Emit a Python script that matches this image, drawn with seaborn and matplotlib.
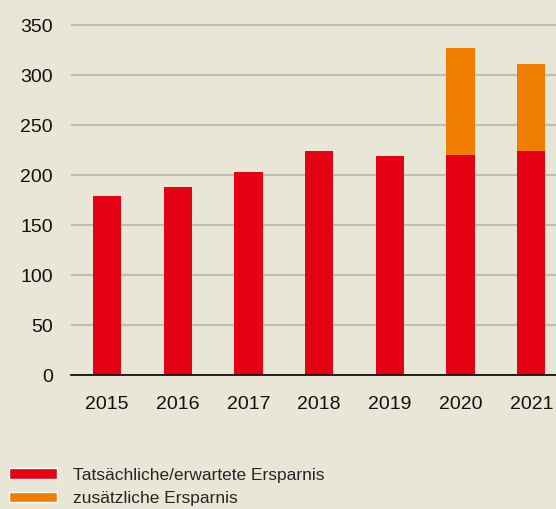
import matplotlib
matplotlib.use("Agg")
import matplotlib.pyplot as plt
from matplotlib.patches import Patch
import numpy as np
import pandas as pd
import seaborn as sns

# Werte
years = ["2015", "2016", "2017", "2018", "2019", "2020", "2021"]
actual = [179, 188, 203, 224, 219, 220, 224]
extra = [0, 0, 0, 0, 0, 107, 87]
yticks = [0, 50, 100, 150, 200, 250, 300, 350]

BG = "#E8E6D7"
RED = "#E50013"
ORANGE = "#EF7D00"
GRID = "#BFBEB6"

sns.set_theme(style="white")
plt.rcParams["font.family"] = ["Liberation Sans Narrow", "Liberation Sans", "DejaVu Sans"]

df = pd.DataFrame({"year": years, "actual": actual, "extra": extra})
df["total"] = df["actual"] + df["extra"]

fig = plt.figure(figsize=(5.56, 5.09), dpi=100, facecolor=BG)
ax = fig.add_axes([71 / 556, 1 - 375 / 509, 1 - 71 / 556, 355 / 509])
ax.set_facecolor(BG)

# gestapelt: zuerst Gesamt (orange), dann tatsächlich (rot) darüber
sns.barplot(data=df, x="year", y="total", color=ORANGE, width=0.4,
            saturation=1, ax=ax, zorder=3, linewidth=0, edgecolor="none")
sns.barplot(data=df, x="year", y="actual", color=RED, width=0.4,
            saturation=1, ax=ax, zorder=3, linewidth=0, edgecolor="none")

ax.set_ylim(0, 355)
ax.set_xlim(-0.51, 6.35)
ax.set_yticks(yticks)
ax.yaxis.grid(True, color=GRID, linewidth=1.5)
ax.set_axisbelow(True)
for s in ["top", "right", "left"]:
    ax.spines[s].set_visible(False)
ax.spines["bottom"].set_color("black")
ax.spines["bottom"].set_linewidth(1.2)
ax.spines["bottom"].set_zorder(4)
ax.tick_params(axis="both", length=0, labelsize=14, colors="#111111")
ax.tick_params(axis="y", pad=13)
ax.tick_params(axis="x", pad=15)
ax.set_xlabel("")
ax.set_ylabel("")

handles = [Patch(facecolor=RED, label="Tatsächliche/erwartete Ersparnis"),
           Patch(facecolor=ORANGE, label="zusätzliche Ersparnis")]
fig.legend(handles=handles, loc="upper left", bbox_to_anchor=(0.0, 1 - 459 / 509),
           frameon=False, fontsize=12.5, handlelength=2.8, handleheight=0.55,
           handletextpad=0.9, labelspacing=0.5, borderaxespad=0.0,
           borderpad=0.5)

fig.savefig("out.png", dpi=100, facecolor=BG)
